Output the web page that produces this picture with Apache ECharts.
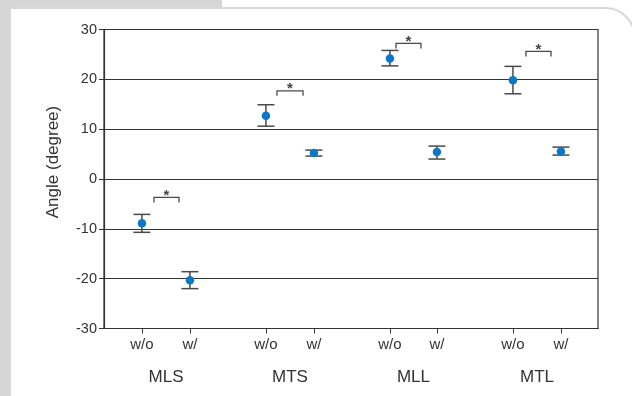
<!DOCTYPE html>
<html>
<head>
<meta charset="utf-8">
<script src="https://cdn.jsdelivr.net/npm/echarts@6/dist/echarts.min.js"></script>
<style>html,body{margin:0;padding:0;background:#fff}#c{width:632px;height:396px}</style>
</head>
<body>
<div id="c"></div>
<script>
// ---- data ----
const groups = ['MLS', 'MTS', 'MLL', 'MTL'];
const conditions = ['w/o', 'w/', 'w/o', 'w/', 'w/o', 'w/', 'w/o', 'w/'];
const xPositions = [1.0, 1.387, 2.0, 2.387, 3.0, 3.379, 3.992, 4.379];
const groupCenters = [1.194, 2.194, 3.19, 4.186];
const means = [-8.9, -20.3, 12.7, 5.2, 24.2, 5.4, 19.8, 5.5];
const upper = [-7.1, -18.6, 14.9, 5.8, 25.8, 6.6, 22.6, 6.4];
const lower = [-10.7, -22.0, 10.6, 4.6, 22.7, 4.0, 17.1, 4.8];
const bracketStart = [1.097, 2.089, 3.049, 4.097];
const bracketEnd = [1.299, 2.299, 3.25, 4.299];
const bracketTop = [-3.7, 17.7, 27.2, 25.6];

function labelFor(v, pos, labels) {
  let best = 0, bd = Infinity;
  pos.forEach((p, i) => { const d = Math.abs(p - v); if (d < bd) { bd = d; best = i; } });
  return bd < 0.05 ? labels[best] : '';
}

const chart = echarts.init(document.getElementById('c'), null, {renderer: 'canvas'});
const font = 'Liberation Sans, Arial, Helvetica, sans-serif';
const option = {
  backgroundColor: '#fff',
  animation: false,
  graphic: [
    {type: 'rect', z: -10, shape: {x: 0, y: 0, width: 10, height: 396}, style: {fill: '#d6d6d6'}},
    {type: 'rect', z: -10, shape: {x: 0, y: 0, width: 222, height: 9}, style: {fill: '#d6d6d6'}},
    {type: 'rect', z: -9, shape: {x: 10, y: 8, width: 625, height: 420, r: [0, 30, 0, 0]},
      style: {fill: '#fff', stroke: '#d8d8d8', lineWidth: 2}}
  ],
  grid: {left: 104, right: 34, top: 29.5, bottom: 67.5, show: true, borderColor: '#333', borderWidth: 1.2, backgroundColor: 'transparent'},
  xAxis: [{
    type: 'value', min: 0.694, max: 4.678, position: 'bottom',
    axisLine: {show: true, onZero: false, lineStyle: {color: '#333', width: 1.2}},
    axisTick: {show: true, customValues: xPositions, length: 5, lineStyle: {color: '#333'}},
    axisLabel: {show: true, customValues: xPositions, margin: 9, color: '#333', fontSize: 15, fontFamily: font,
      formatter: v => labelFor(v, xPositions, conditions)},
    splitLine: {show: false}
  }, {
    type: 'value', min: 0.694, max: 4.678, position: 'bottom', offset: 32,
    axisLine: {show: false}, axisTick: {show: false},
    axisLabel: {show: true, customValues: groupCenters, margin: 8, color: '#333', fontSize: 17, fontFamily: font,
      formatter: v => labelFor(v, groupCenters, groups)},
    splitLine: {show: false}
  }],
  yAxis: {
    type: 'value', min: -30, max: 30, interval: 10,
    name: 'Angle (degree)', nameLocation: 'middle', nameGap: 42,
    nameTextStyle: {color: '#333', fontSize: 17, fontFamily: font, padding: [0, 0, 0, 34]},
    axisLine: {show: true, onZero: false, lineStyle: {color: '#333', width: 1.2}},
    axisTick: {show: true, length: 5, lineStyle: {color: '#333'}},
    axisLabel: {color: '#333', fontSize: 14.5, fontFamily: font, margin: 7},
    splitLine: {show: true, lineStyle: {color: '#333', width: 1.2}}
  },
  series: [{
    type: 'custom', z: 3,
    data: xPositions.map((x, i) => [x, lower[i], upper[i]]),
    renderItem: (params, api) => {
      const x = api.value(0);
      const pHi = api.coord([x, api.value(2)]);
      const pLo = api.coord([x, api.value(1)]);
      const hw = 8.5;
      const st = {stroke: '#4a4a4a', lineWidth: 1.5};
      return {type: 'group', children: [
        {type: 'line', shape: {x1: pHi[0], y1: pHi[1], x2: pLo[0], y2: pLo[1]}, style: st},
        {type: 'line', shape: {x1: pHi[0] - hw, y1: pHi[1], x2: pHi[0] + hw, y2: pHi[1]}, style: st},
        {type: 'line', shape: {x1: pLo[0] - hw, y1: pLo[1], x2: pLo[0] + hw, y2: pLo[1]}, style: st}
      ]};
    }
  }, {
    type: 'scatter', z: 4, symbol: 'circle', symbolSize: 8.5,
    itemStyle: {color: '#0a78c6', opacity: 1},
    data: xPositions.map((x, i) => [x, means[i]])
  }, {
    type: 'custom', z: 3,
    data: bracketStart.map((x, i) => [x, bracketEnd[i], bracketTop[i]]),
    renderItem: (params, api) => {
      const a = api.coord([api.value(0), api.value(2)]);
      const b = api.coord([api.value(1), api.value(2)]);
      const leg = 5;
      return {type: 'group', children: [
        {type: 'polyline', shape: {points: [[a[0], a[1] + leg], [a[0], a[1]], [b[0], b[1]], [b[0], b[1] + leg]]},
          style: {stroke: '#4a4a4a', lineWidth: 1.3, fill: null}},
        {type: 'text', x: (a[0] + b[0]) / 2, y: a[1] - 2,
          style: {text: '*', fill: '#444', font: 'bold 15px ' + font, align: 'center', verticalAlign: 'middle'}}
      ]};
    }
  }]
};
chart.setOption(option);
</script>
</body>
</html>
